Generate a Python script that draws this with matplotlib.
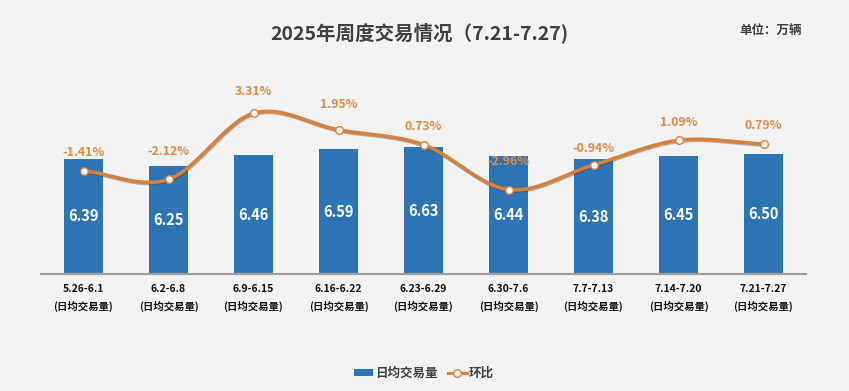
import numpy as np
import matplotlib
matplotlib.use("Agg")
import matplotlib.pyplot as plt
import matplotlib.patheffects as pe
from matplotlib.lines import Line2D
from matplotlib.patches import Patch

plt.rcParams['font.family'] = ['Noto Sans CJK SC', 'DejaVu Sans']

weeks = ["5.26-6.1", "6.2-6.8", "6.9-6.15", "6.16-6.22", "6.23-6.29",
         "6.30-7.6", "7.7-7.13", "7.14-7.20", "7.21-7.27"]
tick_suffix = "(日均交易量)"
daily_volume = [6.39, 6.25, 6.46, 6.59, 6.63, 6.44, 6.38, 6.45, 6.50]
wow_change = [-1.41, -2.12, 3.31, 1.95, 0.73, -2.96, -0.94, 1.09, 0.79]

title = "2025年周度交易情况（7.21-7.27)"
unit = "单位：万辆"
bar_name = "日均交易量"
line_name = "环比"

# styles
bg = '#f3f3f3'
bar_color = '#2e75b6'
line_color = '#d8803c'
label_color = '#e08a45'
label_offsets = [13, 20, 16, 18, 13, 20, 12, 13, 13]  # points above marker

W, H = 849, 391
fig = plt.figure(figsize=(W / 100, H / 100), dpi=100, facecolor=bg)
ax_left, ax_right_px = 41, 806
ax_bot_px, ax_top_px = 274, 92
ax = fig.add_axes([ax_left / W, (H - ax_bot_px) / H,
                   (ax_right_px - ax_left) / W, (ax_bot_px - ax_top_px) / H])
ax.set_facecolor(bg)

x = np.arange(len(weeks))
bars = ax.bar(x, daily_volume, width=0.46, color=bar_color, zorder=2)
ax.set_xlim(-0.5, len(weeks) - 0.5)
ax.set_ylim(4.0, 4.0 + (ax_bot_px - ax_top_px) / 48.2)
for xi, v in zip(x, daily_volume):
    ax.text(xi, (4.0 + v) / 2, f"{v:.2f}", ha='center', va='center',
            color='white', fontsize=10.5, fontweight='bold', zorder=3)

for s in ['top', 'right', 'left']:
    ax.spines[s].set_visible(False)
ax.spines['bottom'].set_color('#a0a0a0')
ax.spines['bottom'].set_linewidth(1.6)
ax.set_yticks([])
ax.set_xticks(x)
ax.set_xticklabels([f"{w}\n{tick_suffix}" for w in weeks], fontsize=7.5,
                   fontweight='bold', color='#111111', linespacing=1.75)
ax.tick_params(axis='x', length=0, pad=7)

ax2 = ax.twinx()
ax2.set_ylim(-(ax_bot_px - 153.6) / 12.16, (153.6 - ax_top_px) / 12.16)
ax2.set_xlim(-0.5, len(weeks) - 0.5)
ax2.axis('off')

# Catmull-Rom smoothing of the line (rendering only)
px = np.array(x, dtype=float)
py = np.array(wow_change, dtype=float)
P = np.column_stack([px, py])
P = np.vstack([2 * P[0] - P[1], P, 2 * P[-1] - P[-2]])
curve = []
t = np.linspace(0, 1, 30)[:, None]
for i in range(1, len(P) - 2):
    p0, p1, p2, p3 = P[i - 1], P[i], P[i + 1], P[i + 2]
    seg = 0.5 * ((2 * p1) + (-p0 + p2) * t + (2 * p0 - 5 * p1 + 4 * p2 - p3) * t ** 2
                 + (-p0 + 3 * p1 - 3 * p2 + p3) * t ** 3)
    curve.append(seg)
curve = np.vstack(curve)
ax2.plot(curve[:, 0], curve[:, 1], color=line_color, lw=2.6, zorder=4,
         solid_capstyle='round',
         path_effects=[pe.SimpleLineShadow(offset=(0.4, -0.8), shadow_color='#4a2e18', alpha=0.35),
                       pe.Normal()])
ax2.plot(px, py, linestyle='none', marker='o', ms=5.5, mfc='white', mec=line_color,
         mew=1.0, zorder=5)
for xi, v, off in zip(px, py, label_offsets):
    ax2.annotate(f"{v:.2f}%", (xi, v), xytext=(0, off), textcoords='offset points',
                 ha='center', va='center', color=label_color, fontsize=8.8,
                 fontweight='bold', zorder=6)

fig.text(419 / W, 1 - 33 / H, title, ha='center', va='center', fontsize=14,
         fontweight='bold', color='#404040')
fig.text(771 / W, 1 - 30 / H, unit, ha='center', va='center', fontsize=9,
         fontweight='bold', color='#404040')

handles = [Patch(facecolor=bar_color, edgecolor='none'),
           Line2D([0], [0], color=line_color, lw=2.2, marker='o', ms=5.5,
                  mfc='white', mec=line_color)]
leg = fig.legend(handles, [bar_name, line_name], loc='center',
                 bbox_to_anchor=(424 / W, 1 - 373 / H), ncol=2, frameon=False,
                 fontsize=9, handlelength=1.5, handleheight=0.5, columnspacing=0.8,
                 handletextpad=0.2)
for txt in leg.get_texts():
    txt.set_color('#404040')
    txt.set_fontweight('bold')

fig.savefig("out.png", dpi=100, facecolor=bg)
